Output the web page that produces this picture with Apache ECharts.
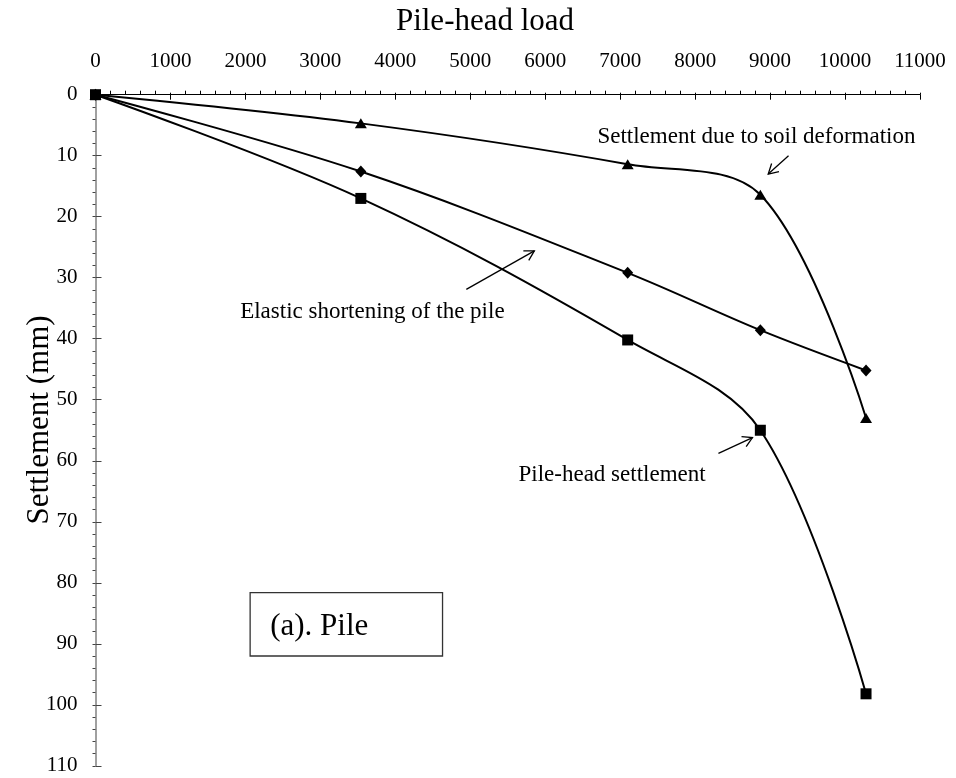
<!DOCTYPE html>
<html>
<head>
<meta charset="utf-8">
<script src="https://cdn.jsdelivr.net/npm/echarts@6/dist/echarts.min.js"></script>
<style>
  html, body { margin: 0; padding: 0; background: #fff; }
  #chart { width: 956px; height: 778px; }
</style>
</head>
<body>
<div id="chart"></div>
<script>
// Pile-head load steps and the measured settlement components (mm)
const loads = [0, 3540, 7100, 8870, 10280];
const pileHeadSettlement = [0, 17.0, 40.2, 55.0, 98.2];
const elasticShortening = [0, 12.6, 29.2, 38.6, 45.2];
const soilDeformation = [0, 4.7, 11.4, 16.4, 53.0];

// Axis ranges
const loadRange = [0, 11000, 1000];
const settlementRange = [0, 110, 10];

const FONT = '"Liberation Serif", "Times New Roman", serif';

// Annotation callouts, placed in data coordinates (load, settlement)
const callouts = [
  { text: 'Settlement due to soil deformation', anchor: [10940, 7.0], align: 'right',
    from: [9246, 10.0], to: [8975, 13.0] },
  { text: 'Elastic shortening of the pile', anchor: [1930, 35.6], align: 'left',
    from: [4947, 31.9], to: [5855, 25.6] },
  { text: 'Pile-head settlement', anchor: [8140, 62.4], align: 'right',
    from: [8311, 58.8], to: [8765, 56.2] }
];
const panelLabel = { text: '(a). Pile', box: [[2063, 81.6], [4630, 92.0]], anchor: [2330, 87.3] };

const pairs = ys => loads.map((x, i) => [x, ys[i]]);
const plainNumber = v => String(v);

const chart = echarts.init(document.getElementById('chart'), null, { renderer: 'canvas' });

const gridBox = { left: 95.5, top: 94.7, right: 36, bottom: 12.2 };

chart.setOption({
  animation: false,
  backgroundColor: '#fff',
  grid: [
    Object.assign({ containLabel: false }, gridBox),
    Object.assign({ containLabel: false }, gridBox)
  ],
  xAxis: [
    {
      type: 'value', gridIndex: 0, position: 'top',
      min: loadRange[0], max: loadRange[1], interval: loadRange[2],
      axisLine: { show: true, onZero: false, lineStyle: { color: '#000', width: 1 } },
      axisTick: { show: true, inside: false, length: 2, lineStyle: { color: '#000' } },
      minorTick: { show: true, splitNumber: 5, length: 4, lineStyle: { color: '#000' } },
      splitLine: { show: false },
      axisLabel: { margin: 23, fontFamily: FONT, fontSize: 21, color: '#000', formatter: plainNumber }
    },
    {
      // inner half of the major ticks
      type: 'value', gridIndex: 1, position: 'top',
      min: loadRange[0], max: loadRange[1], interval: loadRange[2],
      axisLine: { show: false },
      axisTick: { show: true, inside: true, length: 5, lineStyle: { color: '#000' } },
      splitLine: { show: false },
      axisLabel: { show: false }
    }
  ],
  yAxis: [
    {
      type: 'value', gridIndex: 0, position: 'left', inverse: true,
      min: settlementRange[0], max: settlementRange[1], interval: settlementRange[2],
      axisLine: { show: true, onZero: false, lineStyle: { color: '#808080', width: 1.5 } },
      axisTick: { show: true, inside: false, length: 3, lineStyle: { color: '#444' } },
      minorTick: { show: true, splitNumber: 5, length: 3, lineStyle: { color: '#444' } },
      splitLine: { show: false },
      axisLabel: { margin: 18, fontFamily: FONT, fontSize: 21, color: '#000', formatter: plainNumber }
    },
    {
      type: 'value', gridIndex: 1, position: 'left', inverse: true,
      min: settlementRange[0], max: settlementRange[1], interval: settlementRange[2],
      axisLine: { show: false },
      axisTick: { show: true, inside: true, length: 6, lineStyle: { color: '#444' } },
      splitLine: { show: false },
      axisLabel: { show: false }
    }
  ],
  series: [
    {
      name: 'Elastic shortening', type: 'line', xAxisIndex: 0, yAxisIndex: 0,
      data: pairs(elasticShortening), smooth: 0.35, clip: false,
      symbol: 'diamond', symbolSize: [11, 12],
      lineStyle: { color: '#000', width: 2 }, itemStyle: { color: '#000' }
    },
    {
      name: 'Soil deformation', type: 'line', xAxisIndex: 0, yAxisIndex: 0,
      data: pairs(soilDeformation), smooth: 0.35, clip: false,
      symbol: 'triangle', symbolSize: [12, 10],
      lineStyle: { color: '#000', width: 2 }, itemStyle: { color: '#000' }
    },
    {
      name: 'Pile-head settlement', type: 'line', xAxisIndex: 0, yAxisIndex: 0,
      data: pairs(pileHeadSettlement), smooth: 0.35, clip: false,
      symbol: 'rect', symbolSize: 11,
      lineStyle: { color: '#000', width: 2 }, itemStyle: { color: '#000' }
    }
  ]
});

// Titles, callouts and the panel label
function px(p) { return chart.convertToPixel({ gridIndex: 0 }, p); }

const elements = [];
elements.push({
  type: 'text', x: 485, y: 22,
  style: { text: 'Pile-head load', font: '31px ' + FONT, fill: '#000', align: 'center', verticalAlign: 'middle' }
});
elements.push({
  type: 'text', x: 40, y: 420, rotation: Math.PI / 2,
  style: { text: 'Settlement (mm)', font: '31px ' + FONT, fill: '#000', align: 'center', verticalAlign: 'middle' }
});

callouts.forEach(c => {
  const a = px(c.anchor);
  elements.push({
    type: 'text', x: a[0], y: a[1],
    style: { text: c.text, font: '23px ' + FONT, fill: '#000', align: c.align, verticalAlign: 'middle' }
  });
  const f = px(c.from), t = px(c.to);
  elements.push({
    type: 'line', shape: { x1: f[0], y1: f[1], x2: t[0], y2: t[1] },
    style: { stroke: '#000', lineWidth: 1.3 }
  });
  const ang = Math.atan2(f[1] - t[1], f[0] - t[0]);
  const L = 11, spread = Math.PI / 6;
  elements.push({
    type: 'polyline',
    shape: { points: [
      [t[0] + L * Math.cos(ang + spread), t[1] + L * Math.sin(ang + spread)],
      [t[0], t[1]],
      [t[0] + L * Math.cos(ang - spread), t[1] + L * Math.sin(ang - spread)]
    ] },
    style: { stroke: '#000', lineWidth: 1.3, fill: null }
  });
});

const b0 = px(panelLabel.box[0]), b1 = px(panelLabel.box[1]);
elements.push({
  type: 'rect', shape: { x: b0[0], y: b0[1], width: b1[0] - b0[0], height: b1[1] - b0[1] },
  style: { stroke: '#333', lineWidth: 1.3, fill: '#fff' }
});
const pa = px(panelLabel.anchor);
elements.push({
  type: 'text', x: pa[0], y: pa[1],
  style: { text: panelLabel.text, font: '31px ' + FONT, fill: '#000', align: 'left', verticalAlign: 'middle' }
});

chart.setOption({ graphic: { elements: elements } });
</script>
</body>
</html>
